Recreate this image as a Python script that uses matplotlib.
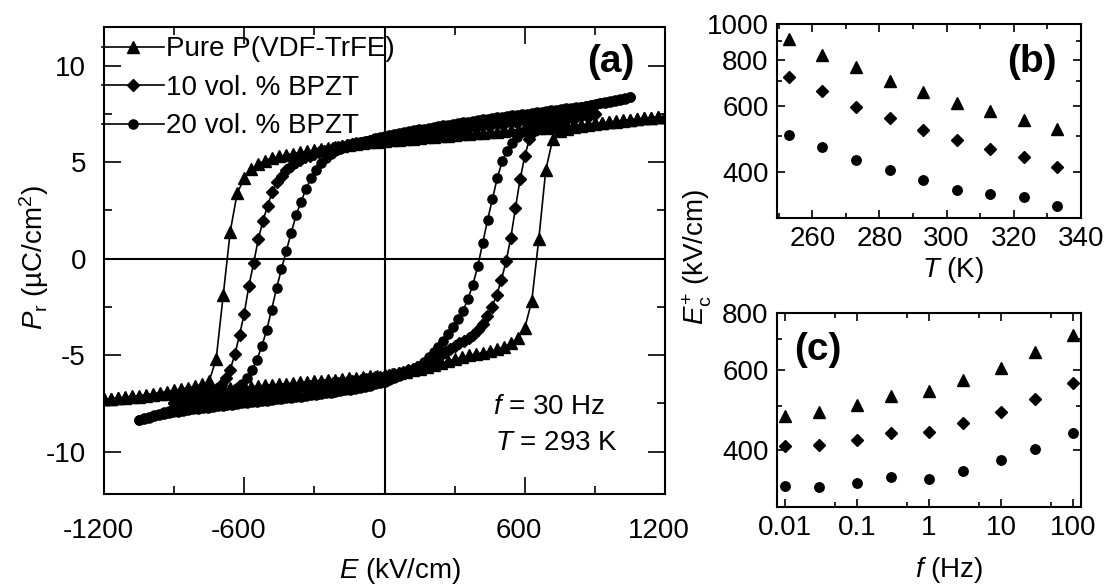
import numpy as np
import matplotlib
matplotlib.use("Agg")
import matplotlib.pyplot as plt
from matplotlib.ticker import FixedLocator, FixedFormatter, MultipleLocator, NullFormatter
from matplotlib.transforms import ScaledTranslation

# P-E loops, P in uC/cm2, sampled on a uniform field sweep
# *_rise: branch swept from -Emax to +Emax, *_fall: branch swept back
# (both listed in order of increasing E)
pure_emax = 1200
pure_rise = [-7.30, -7.27, -7.24, -7.21, -7.18, -7.15, -7.11, -7.08, -7.04, -7.00,
             -6.96, -6.93, -6.90, -6.87, -6.84, -6.81, -6.78, -6.75, -6.72, -6.69,
             -6.66, -6.63, -6.60, -6.57, -6.54, -6.51, -6.48, -6.45, -6.42, -6.39,
             -6.36, -6.33, -6.30, -6.27, -6.24, -6.21, -6.18, -6.15, -6.11, -6.08,
             -6.05, -6.00, -5.94, -5.87, -5.79, -5.70, -5.60, -5.50, -5.41, -5.32,
             -5.22, -5.12, -5.02, -4.95, -4.88, -4.80, -4.70, -4.58, -4.40, -4.12,
             -3.60, -2.20, 1.00, 4.60, 6.20, 6.60, 6.72, 6.80, 6.87, 6.93,
             6.98, 7.02, 7.06, 7.10, 7.14, 7.18, 7.22, 7.26, 7.30, 7.33,
             7.36]
pure_fall = [-7.30, -7.26, -7.22, -7.18, -7.14, -7.10, -7.05, -7.00, -6.95, -6.89,
             -6.83, -6.76, -6.69, -6.62, -6.52, -6.35, -5.20, -1.90, 1.40, 3.40,
             4.15, 4.62, 4.90, 5.08, 5.20, 5.29, 5.37, 5.44, 5.50, 5.56,
             5.62, 5.67, 5.72, 5.77, 5.82, 5.87, 5.92, 5.97, 6.02, 6.06,
             6.10, 6.13, 6.16, 6.19, 6.22, 6.25, 6.28, 6.31, 6.34, 6.37,
             6.40, 6.43, 6.46, 6.49, 6.52, 6.55, 6.58, 6.61, 6.64, 6.67,
             6.70, 6.73, 6.76, 6.79, 6.82, 6.85, 6.88, 6.91, 6.94, 6.97,
             7.00, 7.04, 7.08, 7.12, 7.16, 7.20, 7.24, 7.28, 7.31, 7.34,
             7.36]

bpzt10_emax = 900
bpzt10_rise = [-7.50, -7.46, -7.43, -7.40, -7.37, -7.34, -7.31, -7.28, -7.25, -7.22,
               -7.19, -7.16, -7.13, -7.10, -7.07, -7.04, -7.01, -6.98, -6.95, -6.92,
               -6.89, -6.86, -6.83, -6.80, -6.77, -6.74, -6.71, -6.68, -6.65, -6.62,
               -6.59, -6.56, -6.53, -6.50, -6.47, -6.44, -6.41, -6.38, -6.35, -6.32,
               -6.28, -6.24, -6.20, -6.16, -6.12, -6.08, -6.03, -5.98, -5.92, -5.86,
               -5.79, -5.71, -5.62, -5.52, -5.41, -5.29, -5.15, -4.98, -4.82, -4.67,
               -4.53, -4.40, -4.27, -4.12, -3.94, -3.70, -3.38, -2.98, -2.50, -1.88,
               -1.10, -0.15, 1.05, 2.60, 4.10, 5.30, 6.20, 6.62, 6.80, 6.90,
               6.97, 7.04, 7.10, 7.16, 7.22, 7.28, 7.33, 7.38, 7.42, 7.46,
               7.50]
bpzt10_fall = [-7.50, -7.44, -7.38, -7.32, -7.26, -7.20, -7.13, -7.05, -6.95, -6.80,
               -6.55, -6.20, -5.75, -4.95, -3.95, -2.85, -1.40, -0.25, 1.00, 1.95,
               2.75, 3.45, 3.95, 4.30, 4.58, 4.80, 4.98, 5.12, 5.24, 5.34,
               5.43, 5.51, 5.58, 5.65, 5.71, 5.77, 5.82, 5.87, 5.92, 5.97,
               6.01, 6.05, 6.09, 6.13, 6.17, 6.20, 6.24, 6.27, 6.31, 6.34,
               6.38, 6.41, 6.45, 6.48, 6.52, 6.55, 6.59, 6.62, 6.66, 6.69,
               6.73, 6.76, 6.79, 6.83, 6.86, 6.89, 6.92, 6.95, 6.98, 7.01,
               7.04, 7.07, 7.10, 7.13, 7.16, 7.19, 7.22, 7.25, 7.27, 7.29,
               7.31, 7.33, 7.35, 7.37, 7.39, 7.41, 7.43, 7.45, 7.47, 7.49,
               7.50]

bpzt20_emax = 1050
bpzt20_rise = [-8.35, -8.30, -8.24, -8.18, -8.12, -8.07, -8.02, -7.97, -7.93, -7.89,
               -7.85, -7.82, -7.78, -7.75, -7.72, -7.69, -7.66, -7.63, -7.60, -7.57,
               -7.54, -7.51, -7.48, -7.45, -7.42, -7.39, -7.36, -7.33, -7.30, -7.27,
               -7.24, -7.21, -7.18, -7.15, -7.12, -7.09, -7.06, -7.03, -6.99, -6.95,
               -6.91, -6.87, -6.83, -6.79, -6.74, -6.69, -6.64, -6.58, -6.52, -6.45,
               -6.38, -6.30, -6.21, -6.11, -6.00, -5.87, -5.72, -5.55, -5.35, -5.12,
               -4.86, -4.57, -4.25, -3.92, -3.55, -3.15, -2.70, -2.10, -1.35, -0.40,
               0.80, 2.00, 3.10, 4.20, 5.05, 5.60, 6.00, 6.32, 6.58, 6.80,
               6.98, 7.12, 7.24, 7.34, 7.43, 7.51, 7.58, 7.65, 7.71, 7.77,
               7.83, 7.89, 7.95, 8.00, 8.05, 8.10, 8.15, 8.20, 8.25, 8.30,
               8.35]
bpzt20_fall = [-8.35, -8.27, -8.19, -8.11, -8.03, -7.96, -7.89, -7.82, -7.75, -7.68,
               -7.61, -7.54, -7.47, -7.40, -7.33, -7.25, -7.17, -7.08, -6.98, -6.86,
               -6.72, -6.52, -6.20, -5.80, -5.25, -4.55, -3.70, -2.65, -1.55, -0.55,
               0.40, 1.35, 2.25, 2.95, 3.60, 4.15, 4.60, 4.95, 5.22, 5.42,
               5.58, 5.70, 5.80, 5.89, 5.97, 6.04, 6.11, 6.17, 6.23, 6.29,
               6.34, 6.40, 6.45, 6.50, 6.55, 6.60, 6.65, 6.70, 6.74, 6.78,
               6.82, 6.86, 6.90, 6.94, 6.98, 7.02, 7.06, 7.10, 7.14, 7.18,
               7.21, 7.25, 7.28, 7.32, 7.35, 7.38, 7.42, 7.45, 7.48, 7.51,
               7.55, 7.58, 7.61, 7.64, 7.68, 7.71, 7.74, 7.78, 7.81, 7.85,
               7.88, 7.92, 7.96, 8.00, 8.04, 8.08, 8.13, 8.18, 8.23, 8.29,
               8.35]

# coercive field Ec+ (kV/cm) vs temperature (f = 30 Hz)
temp_K = [253, 263, 273, 283, 293, 303, 313, 323, 333]
ec_T_pure = [910, 825, 768, 700, 654, 614, 584, 550, 522]
ec_T_10 = [719, 658, 599, 558, 519, 486, 461, 438, 411]
ec_T_20 = [503, 466, 431, 405, 379, 356, 349, 342, 324]

# coercive field Ec+ (kV/cm) vs frequency (T = 293 K)
freq_Hz = [0.01, 0.03, 0.1, 0.3, 1, 3, 10, 30, 100]
ec_f_pure = [475, 484, 503, 527, 538, 569, 605, 657, 717]
ec_f_10 = [408, 410, 421, 437, 439, 458, 486, 518, 562]
ec_f_20 = [333, 332, 338, 350, 346, 359, 381, 403, 437]

labels = ["Pure P(VDF-TrFE)", "10 vol. % BPZT", "20 vol. % BPZT"]
loop_markers = [("^", 8.0), ("D", 6.0), ("o", 6.6)]
ec_markers = [("^", 8.0), ("D", 6.2), ("o", 6.8)]

plt.rcParams["font.family"] = "Liberation Sans"
plt.rcParams["mathtext.fontset"] = "custom"
plt.rcParams["mathtext.rm"] = "Liberation Sans"
plt.rcParams["mathtext.it"] = "Liberation Sans:italic"
plt.rcParams["mathtext.bf"] = "Liberation Sans:bold"
plt.rcParams["axes.unicode_minus"] = False
plt.rcParams["font.size"] = 20


def loop(emax, rise, fall):
    """join both sweep branches into one closed loop"""
    e = np.linspace(-emax, emax, len(rise))
    p_r = np.asarray(rise)
    p_f = np.asarray(fall)
    return np.concatenate([e, e[::-1]]), np.concatenate([p_r, p_f[::-1]])


def style_axes(ax, major, minor, pad):
    for s in ax.spines.values():
        s.set_linewidth(1.5)
    ax.tick_params(which="both", direction="in", top=True, right=True,
                   width=1.2, labelsize=20, pad=pad)
    ax.tick_params(which="major", length=major)
    ax.tick_params(which="minor", length=minor)


fig = plt.figure(figsize=(11.09, 5.85), dpi=100)
W, H = 1109, 585
ax_a = fig.add_axes([104 / W, 1 - 494 / H, 561 / W, 467 / H])
ax_b = fig.add_axes([777 / W, 1 - 218 / H, 304 / W, 194 / H])
ax_c = fig.add_axes([777 / W, 1 - 507 / H, 304 / W, 194 / H])

# (a) hysteresis loops
loops = [(pure_emax, pure_rise, pure_fall),
         (bpzt10_emax, bpzt10_rise, bpzt10_fall),
         (bpzt20_emax, bpzt20_rise, bpzt20_fall)]
for (emax, rise, fall), lab, (m, ms) in zip(loops, labels, loop_markers):
    e, p = loop(emax, rise, fall)
    ax_a.plot(e, p, color="black", lw=1.2, marker=m, ms=ms,
              mec="black", mfc="black", label=lab, zorder=2)

ax_a.axhline(0, color="black", lw=1.5, zorder=3)
ax_a.axvline(0, color="black", lw=1.5, zorder=3)
ax_a.set_xlim(-1200, 1200)
ax_a.set_ylim(-12.2, 12.0)
ax_a.xaxis.set_major_locator(MultipleLocator(600))
ax_a.xaxis.set_minor_locator(MultipleLocator(300))
ax_a.yaxis.set_major_locator(MultipleLocator(5))
ax_a.yaxis.set_minor_locator(MultipleLocator(2.5))
style_axes(ax_a, 12, 6, 13)
ax_a.tick_params(axis="x", pad=17)
# nudge the field labels a little to the left
shift = ScaledTranslation(-6 / 100, 0, fig.dpi_scale_trans)
for lbl in ax_a.get_xticklabels():
    lbl.set_transform(lbl.get_transform() + shift)

ax_a.set_xlabel("$E$ (kV/cm)", fontsize=20)
ax_a.xaxis.set_label_coords((400 - 104) / 561, (494 - 571) / 467)
ax_a.xaxis.label.set_va("center")
ax_a.set_ylabel(r"$P_\mathrm{r}$ (µC/cm$^2$)", fontsize=20)
ax_a.yaxis.set_label_coords((34 - 104) / 561, (494 - 258) / 467)
ax_a.yaxis.label.set_va("center")

leg = ax_a.legend(loc="upper left", bbox_to_anchor=(-0.004, 0.98),
                  frameon=False, fontsize=20, handlelength=2.25,
                  handletextpad=0.05, labelspacing=0.45, borderpad=0,
                  borderaxespad=0, numpoints=1)
leg.set_zorder(1)

ax_a.text(0.904, 0.925, "(a)", transform=ax_a.transAxes, fontsize=28,
          fontweight="bold", ha="center", va="center")
ax_a.text(0.693, 0.186, "$f$ = 30 Hz", transform=ax_a.transAxes,
          fontsize=20, ha="left", va="center")
ax_a.text(0.697, 0.109, "$T$ = 293 K", transform=ax_a.transAxes,
          fontsize=20, ha="left", va="center")

# (b) Ec+ vs temperature
for ys, (m, ms) in zip([ec_T_pure, ec_T_10, ec_T_20], ec_markers):
    ax_b.plot(temp_K, ys, ls="none", marker=m, ms=ms, color="black")
ax_b.set_yscale("log")
ax_b.set_xlim(249.5, 340)
ax_b.set_ylim(300, 1000)
ax_b.xaxis.set_major_locator(MultipleLocator(20))
ax_b.xaxis.set_minor_locator(MultipleLocator(10))
ax_b.yaxis.set_major_locator(FixedLocator([400, 600, 800, 1000]))
ax_b.yaxis.set_major_formatter(FixedFormatter(["400", "600", "800", "1000"]))
ax_b.yaxis.set_minor_locator(FixedLocator([300, 500, 700, 900]))
ax_b.yaxis.set_minor_formatter(NullFormatter())
style_axes(ax_b, 6, 3.5, 6)
ax_b.set_xlabel("$T$ (K)", fontsize=20)
ax_b.xaxis.set_label_coords((953 - 777) / 304, (218 - 270) / 194)
ax_b.xaxis.label.set_va("center")
ax_b.text(0.839, 0.804, "(b)", transform=ax_b.transAxes, fontsize=28,
          fontweight="bold", ha="center", va="center")

# (c) Ec+ vs frequency
for ys, (m, ms) in zip([ec_f_pure, ec_f_10, ec_f_20], ec_markers):
    ax_c.plot(freq_Hz, ys, ls="none", marker=m, ms=ms, color="black")
ax_c.set_xscale("log")
ax_c.set_yscale("log")
ax_c.set_xlim(0.0077, 130)
ax_c.set_ylim(300, 800)
ax_c.xaxis.set_major_locator(FixedLocator([0.01, 0.1, 1, 10, 100]))
ax_c.xaxis.set_major_formatter(FixedFormatter(["0.01", "0.1", "1", "10", "100"]))
ax_c.xaxis.set_minor_locator(FixedLocator([0.05, 0.5, 5, 50]))
ax_c.xaxis.set_minor_formatter(NullFormatter())
ax_c.yaxis.set_major_locator(FixedLocator([400, 600, 800]))
ax_c.yaxis.set_major_formatter(FixedFormatter(["400", "600", "800"]))
ax_c.yaxis.set_minor_locator(FixedLocator([300, 500, 700]))
ax_c.yaxis.set_minor_formatter(NullFormatter())
style_axes(ax_c, 6, 3.5, 6)
ax_c.set_xlabel("$f$ (Hz)", fontsize=20)
ax_c.xaxis.set_label_coords((949 - 777) / 304, (507 - 570) / 194)
ax_c.xaxis.label.set_va("center")
ax_c.text(0.135, 0.809, "(c)", transform=ax_c.transAxes, fontsize=28,
          fontweight="bold", ha="center", va="center")

# shared y label for (b) and (c)
fig.text(697 / W, 1 - 257 / H, r"$E_\mathrm{c}^{+}$ (kV/cm)", rotation=90,
         fontsize=20, ha="center", va="center")

fig.savefig("out.png", dpi=100)
